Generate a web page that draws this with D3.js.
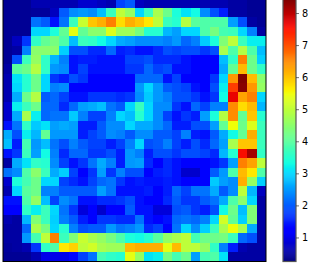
<!DOCTYPE html>
<html>
<head>
<meta charset="utf-8">
<script src="https://cdn.jsdelivr.net/npm/d3@7"></script>
<style>
  html, body { margin: 0; padding: 0; background: white; }
  svg { display: block; }
  .barra text { font-family: "DejaVu Sans"; font-size: 9.7px; fill: black; }
</style>
</head>
<body>
<div id="graf"></div>
<script>
// Datos: una fila por cada renglon de la imagen
const valores = [
  [.4,.4,.4,.6,.6,.6,.6,.6,.8,.8,.7,.6,1.8,2.0,.7,.6,.6,.6,.6,.6,.6,.6,.6,.6,.5,.5,.4,.4],
  [.4,.4,.4,.45,.45,.7,2.0,2.4,2.5,2.4,2.8,3.7,5.0,4.6,3.0,3.7,4.8,4.2,3.4,3.1,3.3,2.4,1.9,1.5,.5,.5,.4,.4],
  [.4,.4,.4,2.2,2.0,1.4,2.2,3.7,5.1,6.0,6.2,6.6,5.8,6.2,6.0,5.7,5.0,3.7,3.5,4.9,4.0,3.9,3.9,3.9,2.55,1.9,.5,.4],
  [.4,.4,.4,3.0,3.0,3.4,4.1,5.4,4.1,4.5,4.5,5.3,4.7,4.7,4.3,3.5,3.5,2.75,2.55,3.0,3.0,3.9,4.3,3.8,3.7,3.0,2.3,.5],
  [.4,.7,1.7,3.6,4.1,4.3,3.9,2.8,3.7,3.6,3.3,3.0,2.65,2.55,2.4,2.4,2.4,2.3,2.5,2.1,2.3,2.9,3.4,4.4,5.0,3.7,3.2,3.2],
  [.4,.5,2.3,4.5,4.5,4.5,2.95,1.9,1.9,1.6,1.6,2.1,1.5,1.6,1.4,1.4,1.6,1.9,1.8,1.9,1.9,1.7,1.9,4.8,3.9,4.9,3.9,2.8],
  [.4,1.9,3.7,4.6,3.6,2.75,2.3,1.4,1.5,1.5,1.4,1.4,1.4,1.8,1.8,1.9,1.6,1.6,1.6,1.4,1.15,1.15,1.25,2.8,3.6,6.6,4.2,2.95],
  [.5,4.0,4.2,4.9,3.6,2.5,2.4,1.4,1.8,1.4,1.4,1.4,1.4,1.7,1.7,2.1,1.8,1.9,1.4,1.4,1.25,1.15,1.25,2.65,4.1,6.1,4.2,3.6],
  [.6,3.1,3.5,4.2,3.0,1.7,1.5,1.9,1.7,1.25,1.25,1.15,1.25,1.15,2.1,2.1,2.1,1.4,1.8,1.15,1.15,1.25,1.7,3.0,6.4,8.45,6.1,4.5],
  [.6,3.0,3.5,4.2,3.0,2.3,2.4,1.25,1.15,1.25,1.25,1.25,1.15,1.15,2.5,3.0,2.5,2.0,1.9,1.8,1.4,1.25,1.9,3.2,7.2,8.4,6.4,4.6],
  [.6,2.65,4.2,4.9,2.0,2.1,1.8,1.4,1.4,1.7,1.7,1.7,1.6,1.7,2.4,2.9,2.5,2.3,1.9,1.9,1.7,1.4,1.7,3.3,7.7,6.3,6.6,3.0],
  [.8,3.2,3.7,4.2,2.1,2.1,1.6,2.1,2.55,2.65,2.8,2.2,2.0,3.0,3.7,3.0,2.4,2.4,1.7,1.4,2.1,1.8,2.3,2.3,6.5,5.8,6.1,2.75],
  [.8,2.65,4.8,3.2,2.1,2.2,2.2,2.9,2.3,1.8,1.8,2.3,3.0,2.8,3.5,3.0,2.4,1.8,1.4,1.7,1.5,2.55,3.4,4.9,6.5,4.1,6.0,3.5],
  [1.4,2.2,3.6,2.9,3.1,2.55,2.65,2.55,1.5,1.5,2.0,2.4,2.4,3.0,2.65,2.65,2.4,2.1,1.5,1.5,1.9,1.9,2.55,4.1,5.5,4.2,5.3,3.7],
  [2.65,1.9,3.2,2.75,4.1,2.5,2.5,2.5,1.5,1.8,2.0,2.4,2.3,2.0,2.4,2.4,2.0,2.0,1.8,2.3,1.5,1.4,2.0,2.65,3.3,4.1,6.2,3.7],
  [2.8,1.5,3.8,2.5,2.8,2.2,1.9,2.3,2.0,1.8,1.8,1.5,1.8,2.3,3.0,1.9,2.0,2.3,1.8,1.5,1.9,1.6,2.1,2.55,4.8,6.0,6.0,3.7],
  [1.4,1.7,3.7,2.55,3.3,2.3,1.6,2.1,2.1,1.7,1.7,1.9,1.5,2.5,2.3,1.5,1.9,1.9,1.7,1.9,1.9,1.8,1.6,2.75,3.5,7.6,8.2,3.6],
  [.5,2.65,3.1,3.6,3.5,2.4,1.8,1.4,1.7,2.2,2.65,2.3,1.5,2.5,2.55,1.6,1.25,1.6,1.4,1.15,1.15,1.15,1.4,1.7,2.55,6.6,6.3,5.0],
  [2.2,2.4,3.9,4.5,3.7,2.65,2.95,1.8,1.25,1.7,2.55,1.7,2.3,1.9,1.9,1.15,1.5,1.6,1.4,.8,.8,1.25,2.0,2.5,3.9,6.1,5.7,3.9],
  [.8,3.4,3.8,4.2,3.0,3.0,1.8,1.6,1.4,1.8,2.1,2.2,1.7,1.4,1.5,1.4,1.4,1.5,1.4,1.25,1.25,1.25,2.9,2.55,2.4,6.2,4.6,2.95],
  [.6,3.0,4.0,4.2,2.3,2.3,2.0,2.0,2.0,2.0,2.55,2.2,1.4,1.4,1.4,1.5,1.25,1.5,2.1,1.8,2.2,2.2,2.65,2.0,2.4,5.0,2.75,.7],
  [1.4,1.4,3.9,4.6,2.8,1.8,2.4,2.2,1.4,1.4,1.6,1.6,1.7,1.9,1.4,1.15,1.15,1.6,2.0,1.7,1.7,2.0,2.2,2.65,3.9,4.5,3.0,.5],
  [1.25,1.15,3.6,3.2,3.7,3.0,2.2,1.7,.9,1.15,.8,1.25,1.25,2.0,1.4,1.4,.9,.9,1.9,2.0,1.7,1.5,1.9,3.3,4.2,2.8,4.4,.5],
  [.6,.5,2.75,4.4,3.7,2.95,2.3,2.0,1.5,1.25,1.7,1.7,1.6,1.6,2.2,1.4,1.25,1.4,2.1,2.2,2.1,2.3,3.0,5.2,4.1,2.95,4.4,.5],
  [.5,.5,2.1,4.8,4.3,3.0,3.5,2.3,1.9,2.0,2.0,2.5,2.2,2.3,2.5,1.6,1.8,1.15,2.2,3.0,2.4,2.95,3.7,4.8,5.5,4.8,2.65,.5],
  [.5,.5,2.5,3.8,5.0,6.6,3.7,4.4,5.1,4.8,4.6,4.3,3.9,3.4,3.3,3.5,4.0,4.6,4.8,5.0,3.8,4.2,4.2,4.3,3.7,2.1,1.9,.5],
  [.45,.5,.6,1.7,3.6,3.9,5.7,5.9,5.0,5.2,4.8,4.7,4.7,6.1,6.2,6.2,6.2,5.4,6.1,5.0,5.0,4.6,3.6,2.3,1.5,.6,.5,.5],
  [.4,.4,.4,.6,1.0,1.0,1.0,1.3,1.8,2.2,3.8,3.6,3.5,5.4,4.6,3.1,3.2,4.3,3.8,4.2,2.55,3.8,3.9,3.1,.5,.5,.5,.5]
];
const ticksBarra = [1, 2, 3, 4, 5, 6, 7, 8];
const vMin = 0.25;
const vMax = 8.45;

// Dimensiones
const anchoTotal = 309;
const altoTotal = 265;

const mapa = { x0: 3, x1: 266, y0: -1.4, y1: 261.5 };
const barra = { x0: 283, x1: 296 };

const svg = d3.select('#graf').append('svg')
    .attr('width', anchoTotal)
    .attr('height', altoTotal);

// Escaladores
const x = d3.scaleBand().domain(d3.range(28)).range([mapa.x0, mapa.x1]);
const y = d3.scaleBand().domain(d3.range(28)).range([mapa.y0, mapa.y1]);

// colormap jet de matplotlib
const rojo = d3.scaleLinear().domain([0, .35, .66, .89, 1]).range([0, 0, 1, 1, .5]);
const verde = d3.scaleLinear().domain([0, .125, .375, .64, .91, 1]).range([0, 0, 1, 1, 0, 0]);
const azul = d3.scaleLinear().domain([0, .11, .34, .65, 1]).range([.5, 1, 1, 0, 0]);
const jet = (t) => d3.rgb(rojo(t) * 255, verde(t) * 255, azul(t) * 255).formatHex();
const color = d3.scaleSequential(jet).domain([vMin, vMax]).clamp(true);

// Celdas
const filas = svg.append('g').selectAll('g')
    .data(valores)
    .enter()
    .append('g')
    .attr('transform', (d, i) => `translate(0, ${y(i)})`);

filas.selectAll('rect')
    .data((d) => d)
    .enter()
    .append('rect')
    .attr('x', (d, i) => x(i))
    .attr('width', x.bandwidth())
    .attr('height', y.bandwidth())
    .attr('shape-rendering', 'crispEdges')
    .attr('fill', (d) => color(d));

// Marco del mapa
svg.append('rect')
    .attr('x', mapa.x0)
    .attr('y', mapa.y0)
    .attr('width', mapa.x1 - mapa.x0)
    .attr('height', mapa.y1 - mapa.y0)
    .attr('fill', 'none')
    .attr('stroke', 'black')
    .attr('stroke-width', 1);

// Barra de color
const yBarra = d3.scaleLinear().domain([vMin, vMax]).range([mapa.y1, mapa.y0]);
const niveles = d3.range(256).map((i) => vMin + (vMax - vMin) * i / 255);
const paso = (mapa.y1 - mapa.y0) / 256;

const gBarra = svg.append('g').attr('class', 'barra');

gBarra.selectAll('rect')
    .data(niveles)
    .enter()
    .append('rect')
    .attr('x', barra.x0)
    .attr('y', (d, i) => mapa.y1 - (i + 1) * paso)
    .attr('width', barra.x1 - barra.x0)
    .attr('height', paso + 0.5)
    .attr('fill', (d) => color(d));

gBarra.append('rect')
    .attr('x', barra.x0)
    .attr('y', mapa.y0)
    .attr('width', barra.x1 - barra.x0)
    .attr('height', mapa.y1 - mapa.y0)
    .attr('fill', 'none')
    .attr('stroke', '#555')
    .attr('stroke-width', 1.2);

const eje = d3.axisRight(yBarra)
    .tickValues(ticksBarra)
    .tickSize(3)
    .tickPadding(3);

gBarra.append('g')
    .attr('transform', `translate(${barra.x1}, 0)`)
    .call(eje)
    .call((g) => g.select('.domain').remove())
    .call((g) => g.selectAll('.tick line').attr('stroke', '#333').attr('stroke-width', 0.7));
</script>
</body>
</html>
